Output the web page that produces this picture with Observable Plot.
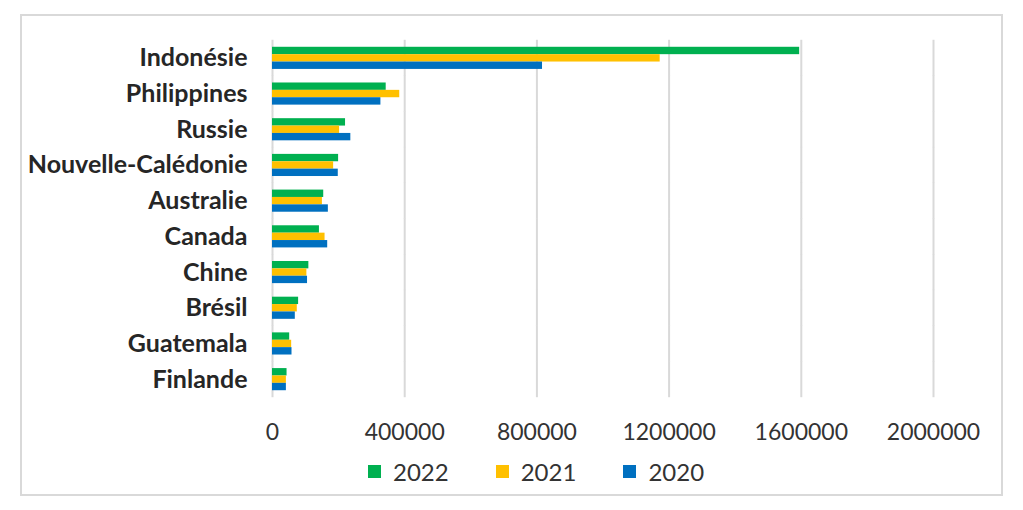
<!DOCTYPE html>
<html><head><meta charset="utf-8">
<script src="https://cdn.jsdelivr.net/npm/d3@7"></script>
<script src="https://cdn.jsdelivr.net/npm/@observablehq/plot@0.6"></script>
<style>
body{margin:0;background:#fff;font-family:Lato,"Open Sans",sans-serif;}
#frame{position:absolute;left:20px;top:14px;border:2px solid #d9d9d9;box-sizing:border-box;width:983px;height:482px;}
#chart{position:absolute;left:0;top:0;}
#legend{position:absolute;top:457px;left:368px;display:flex;align-items:center;font-size:24px;color:#333;}
.item{display:flex;align-items:center;}
.sw{width:13px;height:13px;margin-right:12px;}
</style>
</head><body>
<div id="frame"></div>
<div id="chart"></div>
<div id="legend"></div>
<script>
const countries = ["Indonésie","Philippines","Russie","Nouvelle-Calédonie","Australie","Canada","Chine","Brésil","Guatemala","Finlande"];
const years = ["2022","2021","2020"];
const v2022 = [1595000, 344000, 221000, 200000, 155000, 142000, 110000, 79000, 52000, 44000];
const v2021 = [1173000, 385000, 203000, 185000, 151000, 159000, 104000, 75000, 58000, 42000];
const v2020 = [817000, 328000, 237000, 199000, 169000, 167000, 106000, 69000, 59000, 42000];
const xTicks = [0, 400000, 800000, 1200000, 1600000, 2000000];
const colors = ["#00B050", "#FFC000", "#0070C0"];

const series = {"2022": v2022, "2021": v2021, "2020": v2020};
const rows = [];
countries.forEach((c, i) => years.forEach(y => rows.push({country: c, year: y, value: series[y][i]})));

const chart = Plot.plot({
  width: 1023, height: 450,
  marginLeft: 272, marginRight: 90, marginTop: 40, marginBottom: 53,
  x: {domain: [0, 2000000]},
  fy: {domain: countries, paddingInner: 0.38, paddingOuter: 0.19, round: false},
  y: {domain: years, padding: 0, axis: null, round: false},
  color: {domain: years, range: colors},
  style: {fontFamily: "Lato, 'Open Sans', sans-serif", color: "#333", background: "transparent"},
  marks: [
    Plot.ruleX(xTicks, {stroke: "#d9d9d9", strokeWidth: 2, insetTop: -7, insetBottom: -7}),
    Plot.barX(rows, {fy: "country", y: "year", x: "value", fill: "year"}),
    Plot.axisX({ticks: xTicks, tickFormat: d3.format("d"), tickSize: 0, tickPadding: 33, fontSize: 23, label: null}),
    Plot.axisFy({anchor: "left", tickSize: 0, tickPadding: 25, fontSize: 25, fontWeight: "bold", fill: "#262626", label: null})
  ]
});
document.getElementById("chart").appendChild(chart);

const legend = document.getElementById("legend");
years.forEach((y, i) => {
  const it = document.createElement("div");
  it.className = "item";
  it.style.marginRight = "47px";
  const sw = document.createElement("div");
  sw.className = "sw";
  sw.style.background = colors[i];
  it.appendChild(sw);
  const t = document.createElement("span");
  t.textContent = y;
  it.appendChild(t);
  legend.appendChild(it);
});
</script>
</body></html>
